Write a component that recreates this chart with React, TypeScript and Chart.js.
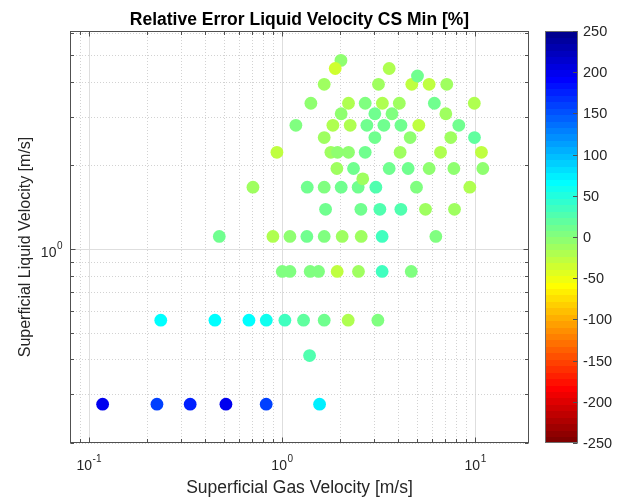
import React, { useEffect, useRef } from "react";
import { Chart, registerables } from "chart.js";

Chart.register(...registerables);

// ---- Data ----
// Superficial gas velocity [m/s]
const gasVel = [
  // row ~0.276
  0.118, 0.2255, 0.335, 0.513, 0.829, 1.566,
  // row ~0.413
  1.39,
  // row ~0.554
  0.236, 0.45, 0.675, 0.83, 1.036, 1.294, 1.655, 2.203, 3.137,
  // row ~0.83
  1.004, 1.1, 1.4, 1.547, 1.932, 2.49, 3.3, 4.67,
  // row ~1.11
  0.474, 0.898, 1.1, 1.346, 1.655, 2.05, 2.572, 3.3, 6.26,
  // row ~1.39
  1.682, 2.562, 3.213, 4.126, 5.534, 7.82,
  // row ~1.67
  0.708, 1.352, 1.655, 2.026, 2.48, 3.063, 4.97, 9.385,
  // single ~1.79
  2.62,
  // row ~1.95
  1.925, 2.347, 3.59, 4.5, 5.78, 7.76, 10.96,
  // row ~2.23
  0.942, 1.792, 1.94, 2.211, 2.697, 4.09, 6.62, 10.78,
  // row ~2.52
  1.655, 3.027, 4.61, 7.48, 9.92,
  // row ~2.79
  1.181, 1.835, 2.256, 2.752, 3.37, 4.13, 5.11, 8.23,
  // row ~3.07
  2.026, 3.027, 3.71, 7.05,
  // row ~3.35
  1.412, 2.211, 2.697, 3.31, 4.05, 6.15, 9.9,
  // row ~3.92
  1.655, 3.16, 4.7, 5.78, 7.13,
  // single ~4.2
  5.03,
  // row ~4.78
  2.02,
  // row ~4.47
  1.887, 3.59,
];

// Superficial liquid velocity [m/s]
const liqVel = [
  0.276, 0.276, 0.276, 0.276, 0.276, 0.276,
  0.413,
  0.554, 0.554, 0.554, 0.554, 0.554, 0.554, 0.554, 0.554, 0.554,
  0.83, 0.83, 0.83, 0.83, 0.83, 0.83, 0.83, 0.83,
  1.11, 1.11, 1.11, 1.11, 1.11, 1.11, 1.11, 1.11, 1.11,
  1.39, 1.39, 1.39, 1.39, 1.39, 1.39,
  1.67, 1.67, 1.67, 1.67, 1.67, 1.67, 1.67, 1.67,
  1.79,
  1.95, 1.95, 1.95, 1.95, 1.95, 1.95, 1.95,
  2.23, 2.23, 2.23, 2.23, 2.23, 2.23, 2.23, 2.23,
  2.52, 2.52, 2.52, 2.52, 2.52,
  2.79, 2.79, 2.79, 2.79, 2.79, 2.79, 2.79, 2.79,
  3.07, 3.07, 3.07, 3.07,
  3.35, 3.35, 3.35, 3.35, 3.35, 3.35, 3.35,
  3.92, 3.92, 3.92, 3.92, 3.92,
  4.2,
  4.78,
  4.47, 4.47,
];

// Relative error [%]
const relErr = [
  200, 160, 175, 200, 160, 78,
  28,
  66, 66, 64, 62, 32, 22, 8, -18, 3,
  5, 5, 5, 5, -30, -12, 35, 0,
  8, -18, -5, 15, 5, -12, -12, 38, 5,
  15, 15, 25, 25, -8, -8,
  -12, 12, 3, 8, 10, 25, 0, -18,
  -12,
  -10, 12, 15, 8, -3, -5, -5,
  -28, -12, -3, -3, 12, -8, -22, -25,
  -8, 12, -3, -8, 18,
  3, -22, -22, 8, 8, 8, -25, 10,
  -3, 8, 3, -8,
  -3, -18, 3, -20, -12, 12, -20,
  -8, -12, -30, -28, -12,
  12,
  -5,
  -32, -20,
];

const xTickValues = [0.08, 0.09, 0.1, 0.2, 0.3, 0.4, 0.5, 0.6, 0.7, 0.8, 0.9, 1, 2, 3, 4, 5, 6, 7, 8, 9, 10];
const xMajorTicks = [0.1, 1, 10];
const yTickValues = [0.2, 0.3, 0.4, 0.5, 0.6, 0.7, 0.8, 0.9, 1, 2, 3, 4, 5, 6];
const yMajorTicks = [1];
const cbTicks = [-250, -200, -150, -100, -50, 0, 50, 100, 150, 200, 250];
const xRange = [0.08, 19];
const yRange = [0.2, 6.1];
const cLim = [-250, 250];
const nColors = 64;

const titleText = "Relative Error Liquid Velocity CS Min [%]";
const xLabelText = "Superficial Gas Velocity [m/s]";
const yLabelText = "Superficial Liquid Velocity [m/s]";

const FONT = '"Liberation Sans", Arial, Helvetica, sans-serif';

// MATLAB jet(64), 1-based index
function jetU(k: number): number {
  if (k < 1 || k > 47) return 0;
  if (k <= 16) return k / 16;
  if (k <= 31) return 1;
  return (48 - k) / 16;
}
function jet64(i: number): string {
  const r = i >= 25 ? jetU(i - 24) : 0;
  const g = i >= 9 && i <= 55 ? jetU(i - 8) : 0;
  const b = i <= 39 ? jetU(i + 8) : 0;
  return `rgb(${Math.round(r * 255)},${Math.round(g * 255)},${Math.round(b * 255)})`;
}
// flipped colormap: high values -> blue
function colorFor(v: number): string {
  let idx = Math.floor(((v - cLim[0]) / (cLim[1] - cLim[0])) * nColors) + 1;
  idx = Math.max(1, Math.min(nColors, idx));
  return jet64(nColors + 1 - idx);
}

function drawPow(ctx: CanvasRenderingContext2D, exp: number, x: number, baseY: number, align: "center" | "right") {
  const base = "10";
  const e = String(exp);
  ctx.font = `14px ${FONT}`;
  const w1 = ctx.measureText(base).width;
  ctx.font = `10px ${FONT}`;
  const w2 = ctx.measureText(e).width;
  const total = w1 + w2;
  const sx = align === "center" ? x - total / 2 : x - total;
  ctx.textAlign = "left";
  ctx.textBaseline = "alphabetic";
  ctx.font = `14px ${FONT}`;
  ctx.fillText(base, sx, baseY);
  ctx.font = `10px ${FONT}`;
  ctx.fillText(e, sx + w1 + 0.5, baseY - 8);
}

const matlabPlugin = {
  id: "matlabLook",
  beforeDatasetsDraw(chart: any) {
    const { ctx, chartArea: a, scales } = chart;
    const xs = scales.x;
    const ys = scales.y;
    ctx.save();
    ctx.lineWidth = 1;
    for (const v of xTickValues) {
      const px = Math.round(xs.getPixelForValue(v)) + 0.5;
      const major = xMajorTicks.includes(v);
      ctx.strokeStyle = major ? "rgb(222,222,222)" : "rgb(210,210,210)";
      ctx.setLineDash(major ? [] : [1, 2]);
      ctx.beginPath();
      ctx.moveTo(px, a.top);
      ctx.lineTo(px, a.bottom);
      ctx.stroke();
    }
    for (const v of yTickValues) {
      const py = Math.round(ys.getPixelForValue(v)) + 0.5;
      const major = yMajorTicks.includes(v);
      ctx.strokeStyle = major ? "rgb(222,222,222)" : "rgb(210,210,210)";
      ctx.setLineDash(major ? [] : [1, 2]);
      ctx.beginPath();
      ctx.moveTo(a.left, py);
      ctx.lineTo(a.right, py);
      ctx.stroke();
    }
    ctx.restore();
  },
  afterDatasetsDraw(chart: any) {
    const { ctx, chartArea: a, scales } = chart;
    const xs = scales.x;
    const ys = scales.y;
    const cs = scales.cb;
    const axisColor = "rgb(80,80,80)";
    const textColor = "rgb(38,38,38)";
    ctx.save();
    ctx.setLineDash([]);
    ctx.lineWidth = 1;
    ctx.strokeStyle = axisColor;
    const L = Math.round(a.left) + 0.5;
    const R = Math.round(a.right) - 0.5;
    const T = Math.round(a.top) + 0.5;
    const B = Math.round(a.bottom) - 0.5;
    ctx.strokeRect(L, T, R - L, B - T);
    // tick marks (inward, both sides)
    ctx.beginPath();
    for (const v of xTickValues) {
      const px = Math.round(xs.getPixelForValue(v)) + 0.5;
      const len = xMajorTicks.includes(v) ? 5 : 3.5;
      ctx.moveTo(px, B);
      ctx.lineTo(px, B - len);
      ctx.moveTo(px, T);
      ctx.lineTo(px, T + len);
    }
    for (const v of yTickValues) {
      const py = Math.round(ys.getPixelForValue(v)) + 0.5;
      const len = yMajorTicks.includes(v) ? 5 : 3.5;
      ctx.moveTo(L, py);
      ctx.lineTo(L + len, py);
      ctx.moveTo(R, py);
      ctx.lineTo(R - len, py);
    }
    ctx.stroke();

    // tick labels
    ctx.fillStyle = textColor;
    for (const v of xMajorTicks) {
      const px = xs.getPixelForValue(v);
      drawPow(ctx, Math.round(Math.log10(v)), px, a.bottom + 27, "center");
    }
    for (const v of yMajorTicks) {
      const py = ys.getPixelForValue(v);
      drawPow(ctx, Math.round(Math.log10(v)), a.left - 8, py + 8.5, "right");
    }

    // axis labels
    ctx.font = `17.5px ${FONT}`;
    ctx.textAlign = "center";
    ctx.textBaseline = "alphabetic";
    ctx.fillText(xLabelText, (a.left + a.right) / 2, 493);
    ctx.save();
    ctx.font = `16px ${FONT}`;
    ctx.translate(30, 247);
    ctx.rotate(-Math.PI / 2);
    ctx.fillText(yLabelText, 0, 0);
    ctx.restore();

    // title
    ctx.fillStyle = "#000";
    ctx.font = `bold 17.5px ${FONT}`;
    ctx.textAlign = "center";
    ctx.fillText(titleText, (a.left + a.right) / 2, 25);

    // colorbar
    const cbL = Math.round(a.right) + 16;
    const cbR = cbL + 33;
    const step = (cLim[1] - cLim[0]) / nColors;
    for (let k = 0; k < nColors; k++) {
      const lo = cLim[0] + k * step;
      const hi = lo + step;
      const y1 = cs.getPixelForValue(hi);
      const y2 = cs.getPixelForValue(lo);
      ctx.fillStyle = colorFor(lo + step / 2);
      ctx.fillRect(cbL, Math.floor(y1), cbR - cbL, Math.ceil(y2) - Math.floor(y1));
    }
    const cT = Math.round(cs.getPixelForValue(cLim[1])) + 0.5;
    const cB = Math.round(cs.getPixelForValue(cLim[0])) - 0.5;
    ctx.strokeStyle = "rgb(110,110,110)";
    ctx.strokeRect(cbL + 0.5, cT, cbR - cbL - 1, cB - cT);
    ctx.beginPath();
    ctx.strokeStyle = axisColor;
    for (const v of cbTicks) {
      const py = Math.round(cs.getPixelForValue(v)) + 0.5;
      ctx.moveTo(cbR - 0.5, py);
      ctx.lineTo(cbR - 5, py);
    }
    ctx.stroke();
    ctx.fillStyle = textColor;
    ctx.font = `14.5px ${FONT}`;
    ctx.textAlign = "left";
    ctx.textBaseline = "middle";
    for (const v of cbTicks) {
      const py = cs.getPixelForValue(v);
      ctx.fillText(String(v), cbR + 5, py + 1);
    }
    ctx.restore();
  },
};

export default function App() {
  const canvasRef = useRef<HTMLCanvasElement | null>(null);

  useEffect(() => {
    document.body.style.margin = "0";
    const canvas = canvasRef.current;
    if (!canvas) return;
    const points = gasVel.map((g, i) => ({ x: g, y: liqVel[i] }));
    const chart = new Chart(canvas, {
      type: "scatter",
      data: {
        datasets: [
          {
            data: points,
            pointRadius: 6.4,
            pointHoverRadius: 6.4,
            pointBorderWidth: 0,
            pointBackgroundColor: relErr.map(colorFor),
            pointBorderColor: relErr.map(colorFor),
          },
        ],
      },
      options: {
        responsive: false,
        animation: false,
        events: [],
        layout: { padding: { left: 70, right: 95, top: 31, bottom: 57 } },
        plugins: {
          legend: { display: false },
          tooltip: { enabled: false },
          title: { display: false },
        },
        scales: {
          x: { type: "logarithmic", min: xRange[0], max: xRange[1], bounds: "data", display: false },
          y: { type: "logarithmic", min: yRange[0], max: yRange[1], bounds: "data", display: false },
          cb: { type: "linear", position: "right", min: cLim[0], max: cLim[1], display: false },
        },
      },
      plugins: [matlabPlugin],
    } as any);
    return () => chart.destroy();
  }, []);

  return (
    <div style={{ position: "absolute", left: 0, top: 0, width: 624, height: 500, background: "#fff" }}>
      <canvas ref={canvasRef} width={624} height={500} style={{ width: 624, height: 500, display: "block" }} />
    </div>
  );
}
